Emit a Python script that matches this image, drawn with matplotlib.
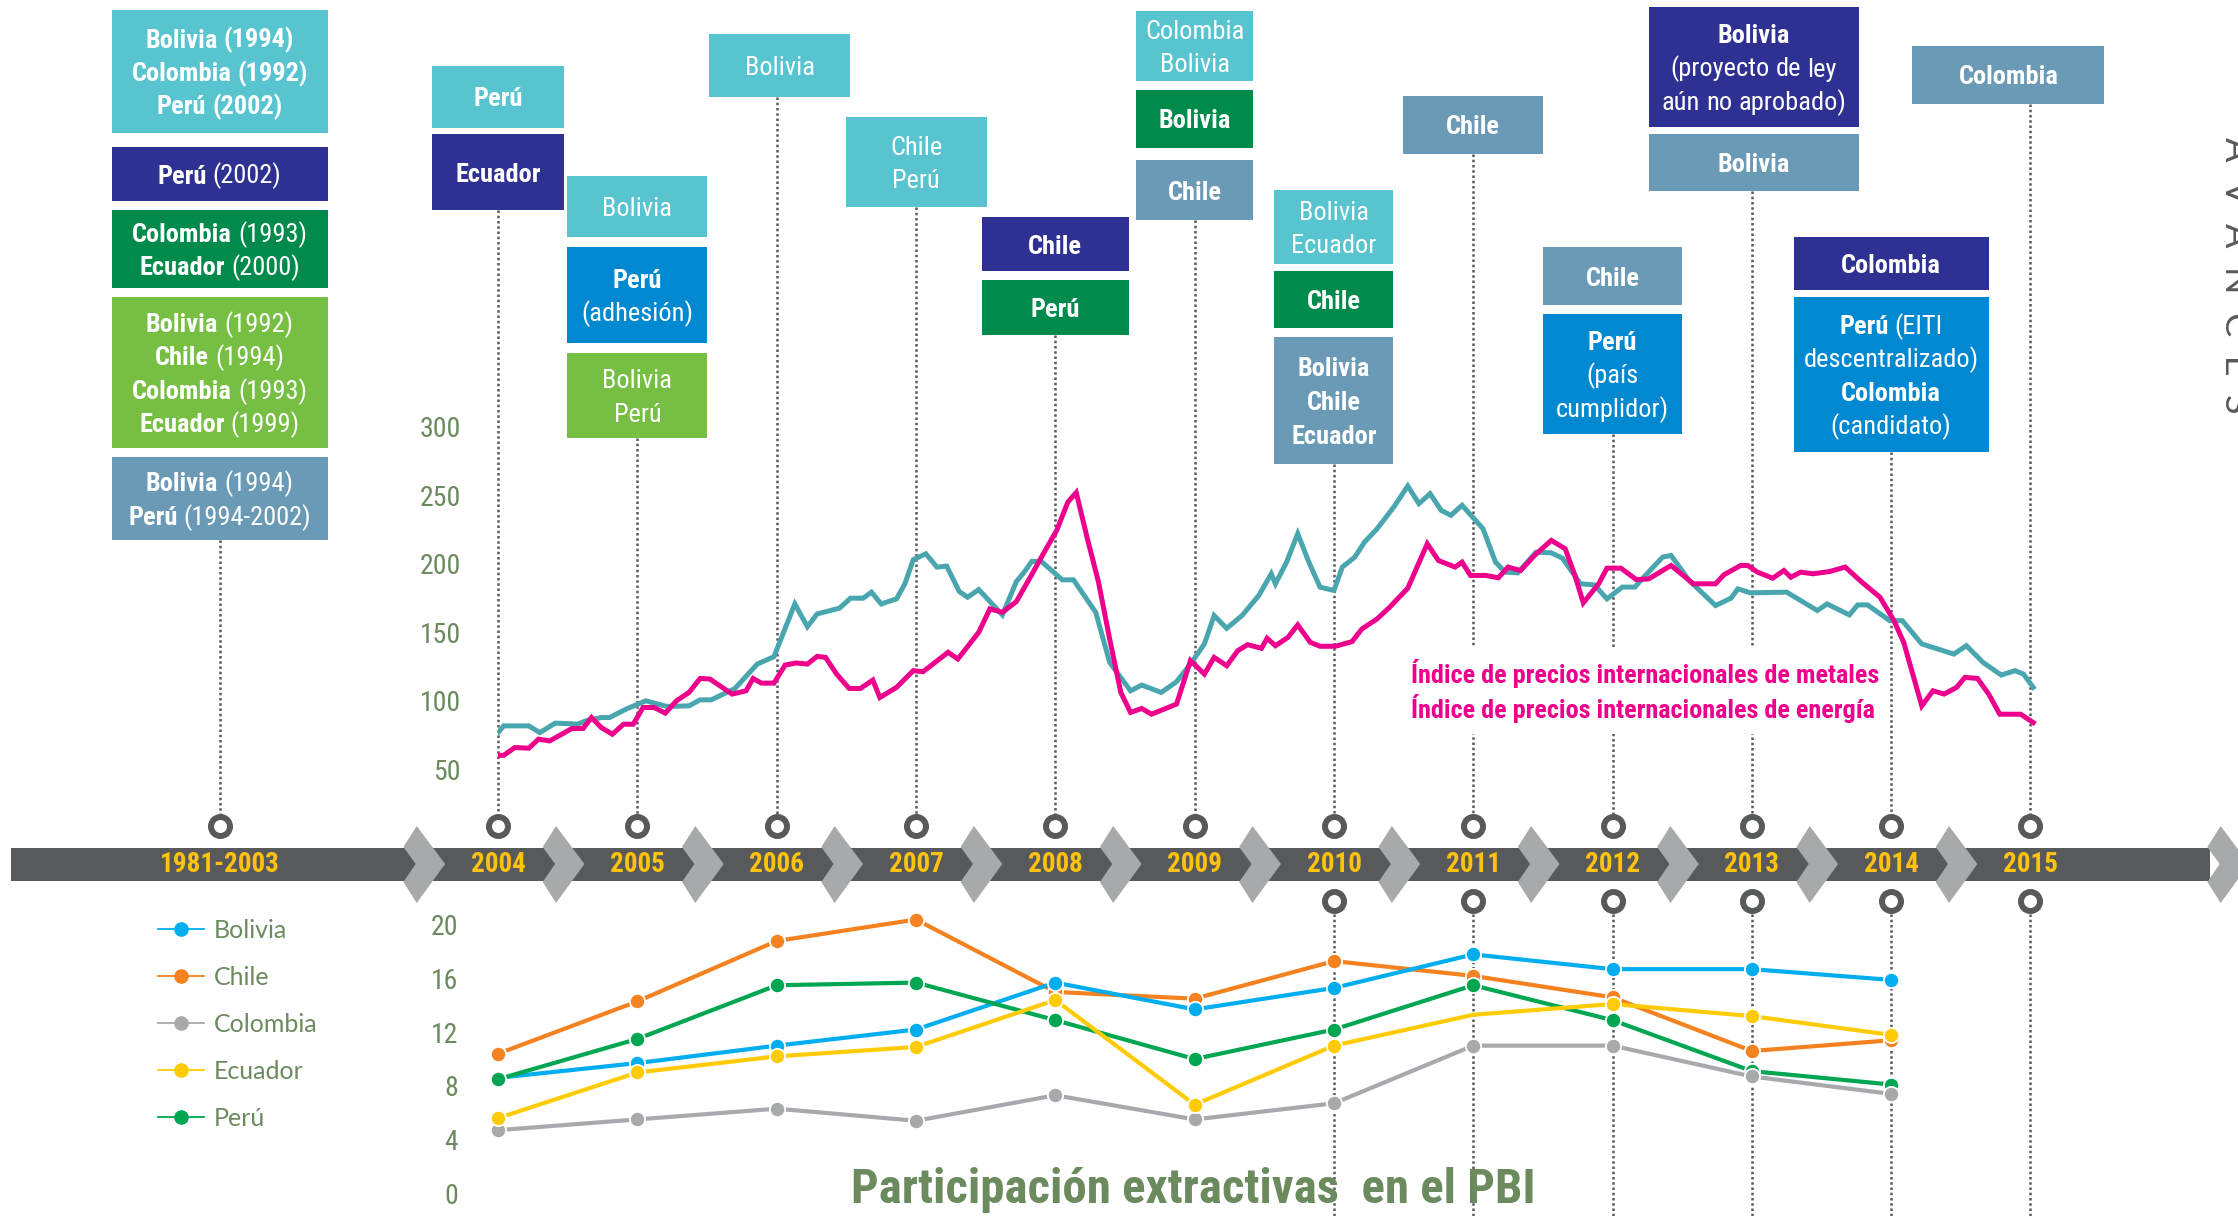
import os
import re

import matplotlib
matplotlib.use("Agg")
import matplotlib.pyplot as plt
from matplotlib import font_manager as fm
from matplotlib.font_manager import FontProperties
from matplotlib.patches import Rectangle, Polygon
from matplotlib.lines import Line2D

# ---------------------------------------------------------------------------
# data
# ---------------------------------------------------------------------------
TIMELINE_YEARS = [2002, 2004, 2005, 2006, 2007, 2008, 2009, 2010, 2011, 2012, 2013, 2014, 2015]
TIMELINE_LABELS = ["1981-2003", "2004", "2005", "2006", "2007", "2008", "2009",
                   "2010", "2011", "2012", "2013", "2014", "2015"]
LOWER_RING_YEARS = [2010, 2011, 2012, 2013, 2014, 2015]

# participacion de industrias extractivas en el PBI (%)
PBI_YEARS = [2004, 2005, 2006, 2007, 2008, 2009, 2010, 2011, 2012, 2013, 2014]
pbi_bolivia = [8.6, 9.7, 11.0, 12.2, 15.7, 13.7, 15.3, 17.8, 16.7, 16.7, 15.9]
pbi_chile = [10.4, 14.3, 18.8, 20.4, 15.0, 14.5, 17.3, 16.2, 14.6, 10.6, 11.4]
pbi_colombia = [4.7, 5.5, 6.3, 5.4, 7.3, 5.5, 6.7, 11.0, 11.0, 8.7, 7.4]
pbi_ecuador = [5.6, 9.0, 10.2, 10.9, 14.4, 6.6, 11.0, 13.3, 14.1, 13.2, 11.8]
pbi_peru = [8.5, 11.5, 15.5, 15.7, 12.9, 10.0, 12.2, 15.5, 12.9, 9.1, 8.1]

# indice de precios internacionales de metales
metal_t = [2004.00, 2004.04, 2004.22, 2004.30, 2004.41, 2004.57, 2004.63, 2004.74, 2004.80, 2004.92,
           2005.06, 2005.21, 2005.37, 2005.45, 2005.53, 2005.70, 2005.86, 2005.98, 2006.13, 2006.22,
           2006.29, 2006.45, 2006.53, 2006.62, 2006.68, 2006.75, 2006.86, 2006.92, 2006.98, 2007.07,
           2007.15, 2007.22, 2007.31, 2007.37, 2007.45, 2007.62, 2007.72, 2007.78, 2007.83, 2007.90,
           2008.05, 2008.13, 2008.29, 2008.39, 2008.54, 2008.62, 2008.76, 2008.87, 2008.97, 2009.07,
           2009.14, 2009.23, 2009.34, 2009.46, 2009.55, 2009.58, 2009.66, 2009.74, 2009.82, 2009.90,
           2010.00, 2010.06, 2010.15, 2010.22, 2010.31, 2010.43, 2010.53, 2010.61, 2010.69, 2010.77,
           2010.84, 2010.92, 2011.07, 2011.16, 2011.23, 2011.32, 2011.45, 2011.56, 2011.64, 2011.77,
           2011.87, 2011.96, 2012.07, 2012.16, 2012.28, 2012.36, 2012.42, 2012.55, 2012.74, 2012.85,
           2012.90, 2012.99, 2013.25, 2013.35, 2013.47, 2013.54, 2013.70, 2013.76, 2013.83, 2013.99,
           2014.08, 2014.22, 2014.45, 2014.54, 2014.66, 2014.79, 2014.89, 2014.95, 2015.02]
metal_v = [76.8, 81.7, 81.7, 76.8, 83.7, 83.0, 85.4, 87.8, 87.8, 94.0,
           100.0, 95.9, 96.3, 100.7, 100.7, 109.0, 126.8, 132.2, 170.7, 154.1,
           163.4, 167.6, 174.9, 174.9, 179.3, 170.7, 174.4, 185.4, 203.0, 207.3,
           197.6, 198.3, 179.8, 175.6, 181.2, 162.7, 187.0, 194.4, 201.7, 201.7,
           188.3, 188.3, 164.6, 128.0, 107.3, 111.5, 106.1, 113.9, 126.8, 141.5,
           162.2, 152.9, 162.2, 176.8, 192.7, 185.4, 201.2, 222.0, 201.2, 183.0,
           180.5, 197.6, 204.9, 215.9, 225.6, 241.5, 256.8, 243.9, 251.2, 239.0,
           235.4, 242.7, 225.6, 201.2, 193.9, 193.4, 208.5, 208.0, 204.1, 185.4,
           184.6, 174.4, 183.0, 183.0, 196.3, 204.9, 206.1, 187.8, 169.5, 174.9,
           181.7, 178.8, 179.3, 173.2, 165.9, 170.7, 162.7, 170.0, 170.0, 158.5,
           158.5, 141.5, 134.1, 140.2, 128.0, 118.8, 122.0, 119.5, 109.8]

# indice de precios internacionales de energia
energy_t = [2004.00, 2004.04, 2004.12, 2004.22, 2004.29, 2004.37, 2004.53, 2004.61, 2004.67, 2004.74,
            2004.82, 2004.90, 2004.97, 2005.04, 2005.12, 2005.20, 2005.28, 2005.37, 2005.45, 2005.52,
            2005.68, 2005.78, 2005.83, 2005.89, 2005.98, 2006.06, 2006.14, 2006.22, 2006.29, 2006.35,
            2006.43, 2006.52, 2006.60, 2006.69, 2006.74, 2006.86, 2006.98, 2007.05, 2007.23, 2007.30,
            2007.45, 2007.53, 2007.62, 2007.72, 2007.82, 2007.92, 2008.01, 2008.09, 2008.15, 2008.23,
            2008.31, 2008.39, 2008.47, 2008.54, 2008.62, 2008.69, 2008.78, 2008.87, 2008.97, 2009.07,
            2009.14, 2009.23, 2009.31, 2009.38, 2009.48, 2009.52, 2009.58, 2009.67, 2009.74, 2009.83,
            2009.90, 2010.01, 2010.13, 2010.20, 2010.31, 2010.40, 2010.53, 2010.67, 2010.75, 2010.87,
            2010.92, 2010.98, 2011.09, 2011.18, 2011.25, 2011.34, 2011.44, 2011.56, 2011.66, 2011.73,
            2011.79, 2011.90, 2011.96, 2012.06, 2012.17, 2012.26, 2012.42, 2012.58, 2012.74, 2012.80,
            2012.92, 2012.97, 2013.04, 2013.15, 2013.23, 2013.28, 2013.35, 2013.44, 2013.56, 2013.67,
            2013.79, 2013.92, 2014.02, 2014.09, 2014.22, 2014.30, 2014.38, 2014.47, 2014.53, 2014.62,
            2014.70, 2014.78, 2014.93, 2015.02]
energy_v = [60.2, 60.2, 65.9, 65.4, 72.0, 70.7, 79.8, 79.8, 87.8, 80.5,
            75.6, 82.9, 82.9, 95.1, 95.1, 91.0, 100.0, 106.1, 116.3, 115.9,
            104.9, 107.3, 116.3, 112.9, 112.9, 126.1, 127.6, 126.8, 132.4, 131.7,
            119.5, 109.0, 109.0, 115.1, 102.4, 109.8, 122.0, 121.2, 135.4, 130.5,
            150.0, 167.1, 164.6, 172.4, 190.2, 208.5, 224.4, 245.1, 252.0, 218.3,
            186.6, 145.1, 106.1, 91.5, 94.4, 90.2, 93.9, 97.6, 129.3, 119.5,
            131.7, 125.6, 136.6, 141.0, 138.3, 145.6, 140.2, 146.3, 155.4, 142.7,
            139.8, 139.8, 143.2, 152.4, 159.8, 168.3, 182.2, 214.6, 202.4, 197.6,
            201.2, 191.5, 191.5, 189.8, 197.6, 195.1, 206.1, 217.1, 211.0, 191.5,
            171.5, 185.4, 196.8, 196.8, 188.5, 189.0, 198.8, 185.4, 185.4, 192.0,
            198.8, 198.8, 193.9, 189.5, 195.1, 190.2, 193.9, 192.7, 194.4, 197.6,
            186.6, 175.6, 158.5, 142.7, 96.3, 107.3, 104.9, 109.8, 117.1, 116.3,
            104.9, 90.2, 90.2, 84.1]

PRICE_TICKS = [50, 100, 150, 200, 250, 300]
PBI_TICKS = [0, 4, 8, 12, 16, 20]

# ---------------------------------------------------------------------------
# style
# ---------------------------------------------------------------------------
W, H, DPI = 2238, 1216, 100
X0, X1 = 2000.424, 2016.49          # years at the left / right edge of the figure
PX_PER_YEAR = W / (X1 - X0)

SANS = ["Lato", "DejaVu Sans"]

DARK = "#58595b"
CHEVRON = "#a7a9ac"
GOLD = "#ffc20e"
OLIVE = "#6b8a5e"
TEAL = "#4aa6ae"
MAGENTA = "#ec008c"

CYAN = "#58c4d0"
NAVY = "#2e3192"
DKGREEN = "#008a4b"
LTGREEN = "#76bf43"
STEEL = "#6a9ab5"
BLUE = "#0089d0"

SERIES = [
    ("Chile", pbi_chile, "#f58220"),
    ("Bolivia", pbi_bolivia, "#00aeef"),
    ("Perú", pbi_peru, "#00a651"),
    ("Colombia", pbi_colombia, "#a7a9ac"),
    ("Ecuador", pbi_ecuador, "#ffcb05"),
]
LEGEND_ORDER = ["Bolivia", "Chile", "Colombia", "Ecuador", "Perú"]

# boxes per timeline column (same order as TIMELINE_YEARS):
# (width px, offset px from the year line, [(top px, bottom px, colour, text)])
BOXES = [
    (216, 0, [(10, 133, CYAN, "**Bolivia (1994)**\n**Colombia (1992)**\n**Perú (2002)**"),
              (147, 201, NAVY, "**Perú** (2002)"),
              (210, 288, DKGREEN, "**Colombia** (1993)\n**Ecuador** (2000)"),
              (297, 448, LTGREEN, "**Bolivia** (1992)\n**Chile** (1994)\n**Colombia** (1993)\n**Ecuador** (1999)"),
              (457, 540, STEEL, "**Bolivia** (1994)\n**Perú** (1994-2002)")]),
    (132, 0, [(66, 128, CYAN, "**Perú**"),
              (134, 210, NAVY, "**Ecuador**")]),
    (140, 0, [(176, 237, CYAN, "Bolivia"),
              (247, 343, BLUE, "**Perú**\n(adhesión)"),
              (353, 438, LTGREEN, "Bolivia\nPerú")]),
    (141, 3, [(34, 97, CYAN, "Bolivia")]),
    (141, 0, [(117, 207, CYAN, "Chile\nPerú")]),
    (147, 0, [(217, 271, NAVY, "**Chile**"),
              (280, 335, DKGREEN, "**Perú**")]),
    (117, 0, [(11, 81, CYAN, "Colombia\nBolivia"),
              (90, 148, DKGREEN, "**Bolivia**"),
              (160, 220, STEEL, "**Chile**")]),
    (119, 0, [(190, 264, CYAN, "Bolivia\nEcuador"),
              (271, 328, DKGREEN, "**Chile**"),
              (337, 464, STEEL, "**Bolivia**\n**Chile**\n**Ecuador**")]),
    (140, 0, [(96, 154, STEEL, "**Chile**")]),
    (139, 0, [(247, 305, STEEL, "**Chile**"),
              (314, 434, BLUE, "**Perú**\n(país\ncumplidor)")]),
    (210, 2, [(7, 127, NAVY, "**Bolivia**\n(proyecto de ley\naún no aprobado)"),
              (134, 191, STEEL, "**Bolivia**")]),
    (195, 0, [(237, 290, NAVY, "**Colombia**"),
              (297, 452, BLUE, "**Perú** (EITI\ndescentralizado)\n**Colombia**\n(candidato)")]),
    (192, -22, [(46, 104, STEEL, "**Colombia**")]),
]

# condensed font, whichever is installed
PREF = ["liberationsansnarrow", "robotocondensed", "opensans_condensed", "opensans-condensed",
        "opensanscondensed", "notosans-condensed", "notosanscondensed", "dejavusanscondensed"]


def find_condensed(bold):
    files = sorted({f.fname for f in fm.fontManager.ttflist})
    for key in PREF:
        for path in files:
            base = os.path.basename(path).lower().replace(" ", "")
            if not base.startswith(key):
                continue
            stem = base[len(key):].split(".")[0].strip("-_")
            if bold and stem == "bold":
                return path
            if not bold and stem in ("", "regular", "book"):
                return path
    return None


COND = {True: find_condensed(True), False: find_condensed(False)}


def fp(bold, size):
    path = COND[bold]
    if path:
        return FontProperties(fname=path, size=size)
    return FontProperties(family="DejaVu Sans", weight="bold" if bold else "normal",
                          stretch="condensed", size=size)


def fx(year):
    return (year - X0) / (X1 - X0)


def year_px(year):
    return (year - X0) * PX_PER_YEAR


fig = plt.figure(figsize=(W / DPI, H / DPI), dpi=DPI)
fig.patch.set_facecolor("white")
renderer = fig.canvas.get_renderer()


def text_width(ax, s, bold, size):
    t = ax.text(0, 0, s, fontproperties=fp(bold, size))
    w = t.get_window_extent(renderer=renderer).width
    t.remove()
    return w


def fit_size(ax, s, bold, target_w, base=20):
    return base * target_w / text_width(ax, s, bold, base)


def box_text(ax, left, right, top, bottom, txt, size=19.0, pitch=33.5):
    lines = []
    for raw in txt.split("\n"):
        words = []
        for part in re.split(r"(\*\*.+?\*\*)", raw):
            if not part:
                continue
            bold = part.startswith("**")
            words += [(w, bold) for w in part.strip("*").split()]
        lines.append(words)

    def measure(sz):
        out = []
        for words in lines:
            ws = [text_width(ax, w, b, sz) for w, b in words]
            sp = text_width(ax, "n n", False, sz) - text_width(ax, "nn", False, sz)
            out.append((ws, sp, sum(ws) + sp * (len(ws) - 1)))
        return out

    m = measure(size)
    widest = max(t for _, _, t in m)
    avail = (right - left) - 12
    if widest > avail:
        size = size * avail / widest
        m = measure(size)
    font_px = size * DPI / 72
    cx, cy = (left + right) / 2, (top + bottom) / 2
    n = len(lines)
    for i, (words, (ws, sp, total)) in enumerate(zip(lines, m)):
        base = cy + (i - (n - 1) / 2) * pitch + 0.36 * font_px
        x = cx - total / 2
        for (w, b), wd in zip(words, ws):
            ax.text(x, base, w, ha="left", va="baseline", color="white",
                    fontproperties=fp(b, size))
            x += wd + sp


# --- timeline layer (x in years, y in pixels) ---
tl = fig.add_axes([0, 0, 1, 1])
tl.set_xlim(X0, X1)
tl.set_ylim(H, 0)
tl.axis("off")

bar_left = X0 + 11 / PX_PER_YEAR
tl.add_patch(Rectangle((bar_left, 848), X1 - 0.2 - bar_left, 33, color=DARK, lw=0, zorder=1))

k = 1 / PX_PER_YEAR
chevron_x = [y + 0.32 for y in range(2003, 2015)] + [2016.27]
for cx in chevron_x:
    pts = [(cx, 847), (cx + 13.3 * k, 826), (cx + 41.7 * k, 864),
           (cx + 13.3 * k, 903), (cx, 882), (cx + 12.3 * k, 864)]
    tl.add_patch(Polygon(pts, closed=True, color=CHEVRON, lw=0, zorder=2))

for yr, lab in zip(TIMELINE_YEARS, TIMELINE_LABELS):
    tl.text(yr, 865, lab, ha="center", va="center", color=GOLD,
            fontproperties=fp(True, 19.5), zorder=3)

dots = (0, (1, 1.1))
for yr, (_, _, stack) in zip(TIMELINE_YEARS, BOXES):
    top = stack[-1][1]
    tl.plot([yr, yr], [top, 814], color=DARK, lw=1.8, ls=dots, zorder=1)
for yr in LOWER_RING_YEARS:
    tl.plot([yr, yr], [914, H], color=DARK, lw=1.8, ls=dots, zorder=1)

tl.plot(TIMELINE_YEARS, [826] * len(TIMELINE_YEARS), "o", ms=13.7, mew=4.3,
        mfc="white", mec=DARK, zorder=4)
tl.plot(LOWER_RING_YEARS, [901] * len(LOWER_RING_YEARS), "o", ms=13.7, mew=4.3,
        mfc="white", mec=DARK, zorder=4)

# --- boxes layer (pixels) ---
deco = fig.add_axes([0, 0, 1, 1])
deco.set_xlim(0, W)
deco.set_ylim(H, 0)
deco.axis("off")
deco.patch.set_visible(False)

for yr, (width, offset, stack) in zip(TIMELINE_YEARS, BOXES):
    left = year_px(yr) + offset - width / 2
    right = left + width
    for top, bottom, col, txt in stack:
        deco.add_patch(Rectangle((left, top), width, bottom - top, color=col, lw=0))
        box_text(deco, left, right, top, bottom, txt)

deco.text(2219, 275, "A  V  A  N  C  E  S", rotation=-90, ha="left", va="center",
          color=DARK, fontsize=26, family=SANS)
title = "Participación extractivas  en el PBI"
deco.text(1193, 1190, title, ha="center", va="center", color=OLIVE,
          fontproperties=fp(True, fit_size(deco, title, True, 682)))

# --- price index chart ---
price_bottom, price_top = 769.3, 426.8
pax = fig.add_axes([fx(2004), (H - price_bottom) / H, 1 - fx(2004), (price_bottom - price_top) / H])
pax.patch.set_visible(False)
pax.set_xlim(2004, X1)
pax.set_ylim(50, 300)
pax.plot(metal_t, metal_v, color=TEAL, lw=3.6, solid_joinstyle="miter", zorder=3)
pax.plot(energy_t, energy_v, color=MAGENTA, lw=3.6, solid_joinstyle="miter", zorder=3)
pax.set_yticks(PRICE_TICKS)
pax.set_xticks([])
pax.tick_params(axis="y", length=0, pad=27, labelcolor=OLIVE)
for lab in pax.get_yticklabels():
    lab.set_fontproperties(fp(False, 20))
for s in pax.spines.values():
    s.set_visible(False)
label = "Índice de precios internacionales de metales"
pax.text(2010.55, 107, label + "\nÍndice de precios internacionales de energía",
         ha="left", va="center", color=MAGENTA, linespacing=1.25, zorder=1,
         fontproperties=fp(True, fit_size(pax, label, True, 467)),
         bbox=dict(facecolor="white", edgecolor="none", pad=8))

# --- participacion en el PBI chart ---
pbi_bottom, pbi_top = 1193.2, 924.9
bax = fig.add_axes([fx(2004), (H - pbi_bottom) / H, 1 - fx(2004), (pbi_bottom - pbi_top) / H])
bax.patch.set_visible(False)
bax.set_xlim(2004, X1)
bax.set_ylim(0, 20)
handles = {}
for name, vals, col in SERIES:
    marks = [i for i, y in enumerate(PBI_YEARS) if not (name == "Ecuador" and y == 2011)]
    bax.plot(PBI_YEARS, vals, color=col, lw=3, marker="o", ms=11, mec="white", mew=1.3,
             markevery=marks, clip_on=False)
    handles[name] = Line2D([], [], color=col, lw=1.3, marker="o", ms=9.5, mec=col)
bax.set_yticks(PBI_TICKS)
bax.set_xticks([])
bax.tick_params(axis="y", length=0, pad=29, labelcolor=OLIVE)
for lab in bax.get_yticklabels():
    lab.set_fontproperties(fp(False, 20))
for s in bax.spines.values():
    s.set_visible(False)

fig.legend([handles[n] for n in LEGEND_ORDER], LEGEND_ORDER, loc="upper left",
           bbox_to_anchor=(158 / W, 1 - 919 / H), frameon=False, handlelength=1.85,
           handletextpad=0.4, labelspacing=0.96, borderpad=0, borderaxespad=0,
           prop={"family": SANS, "size": 18}, labelcolor=OLIVE)

fig.savefig("out.png", dpi=DPI)
